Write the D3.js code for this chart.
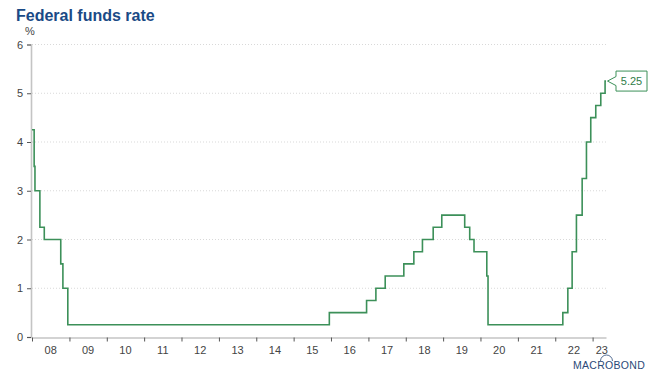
<!DOCTYPE html>
<html><head><meta charset="utf-8">
<script src="https://cdn.jsdelivr.net/npm/d3@7"></script>
<style>
html,body{margin:0;padding:0;background:#fff;}
svg{display:block;font-family:"Liberation Sans",Arial,sans-serif;}
</style></head>
<body><svg id="c" width="659" height="372"></svg>
<script>
const rateDates = ["2008-01-01","2008-01-22","2008-01-30","2008-03-18","2008-04-30","2008-10-08","2008-10-29","2008-12-16",
"2015-12-16","2016-12-14","2017-03-15","2017-06-14","2017-12-13","2018-03-21","2018-06-13","2018-09-26","2018-12-19",
"2019-07-31","2019-09-18","2019-10-30","2020-03-03","2020-03-15",
"2022-03-16","2022-05-04","2022-06-15","2022-07-27","2022-09-21","2022-11-02","2022-12-14",
"2023-02-01","2023-03-22","2023-05-03","2023-05-12"];
const rateValues = [4.25,3.5,3.0,2.25,2.0,1.5,1.0,0.25,
0.5,0.75,1.0,1.25,1.5,1.75,2.0,2.25,2.5,
2.25,2.0,1.75,1.25,0.25,
0.5,1.0,1.75,2.5,3.25,4.0,4.5,
4.75,5.0,5.25,5.25];
const yTicks = [0,1,2,3,4,5,6];
const yearTicks = ["2008","2009","2010","2011","2012","2013","2014","2015","2016","2017","2018","2019","2020","2021","2022","2023"];
const lastLabel = "5.25";

const parse = d3.utcParse("%Y-%m-%d");
const data = rateDates.map((d,i)=>({date:parse(d), v:rateValues[i]}));
const svg = d3.select("#c");
const domainEnd = parse("2023-05-12");
const x = d3.scaleUtc().domain([parse("2008-01-01"), domainEnd]).range([32, 606]);
const y = d3.scaleLinear().domain([0,6]).range([337, 44.5]);

// title
svg.append("text").attr("x",16).attr("y",21).attr("font-size",16).attr("font-weight","bold")
  .attr("fill","#1a4a86").text("Federal funds rate");
svg.append("text").attr("x",25).attr("y",35).attr("font-size",11).attr("fill","#444").text("%");

// grid
svg.append("g").selectAll("line").data(yTicks.filter(d=>d>0)).join("line")
  .attr("x1",32).attr("x2",608).attr("y1",d=>y(d)).attr("y2",d=>y(d))
  .attr("stroke","#cfcfcf").attr("stroke-width",0.8).attr("stroke-dasharray","1,2");

// y axis
const ya = svg.append("g").attr("transform","translate(31,0)")
  .call(d3.axisLeft(y).tickValues(yTicks).tickFormat(d3.format("d")).tickSize(4).tickPadding(4));
ya.select(".domain").attr("stroke","#c4c4c4").attr("stroke-width",1.6);
ya.selectAll(".tick line").attr("stroke","#555");
ya.selectAll("text").attr("font-size",11).attr("fill","#444").attr("font-family","Liberation Sans, Arial, sans-serif");

// x axis
const yearDates = yearTicks.map(t=>parse(t+"-01-01"));
const xa = svg.append("g").attr("transform","translate(0,337.5)")
  .call(d3.axisBottom(x).tickValues(yearDates).tickFormat("").tickSize(4).tickSizeOuter(0));
xa.select(".domain").attr("stroke","#c4c4c4").attr("stroke-width",1.6);
xa.selectAll(".tick line").attr("stroke","#555");
svg.append("g").selectAll("text").data(yearTicks).join("text")
  .attr("x",(d,i)=>{const a=x(parse(d+"-01-01")); const b = i<yearTicks.length-1 ? x(parse(yearTicks[i+1]+"-01-01")) : x(domainEnd)+5; return (a+b)/2;})
  .attr("y",354).attr("text-anchor","middle").attr("font-size",11).attr("fill","#444").text(d=>d.slice(2));

// line
const line = d3.line().x(d=>x(d.date)).y(d=>y(d.v)).curve(d3.curveStepAfter);
svg.append("path").datum(data).attr("d",line).attr("fill","none").attr("stroke","#3c9059").attr("stroke-width",1.6);

// callout label
const last = data[data.length-1];
const lx = x(last.date)+1.5, ly = y(last.v);
const bx = 616, bw = 31, by0 = ly-10, bh = 20;
svg.append("path").attr("d",`M${lx},${ly} L${bx},${ly-4.5} L${bx},${by0} L${bx+bw},${by0} L${bx+bw},${by0+bh} L${bx},${by0+bh} L${bx},${ly+4.5} Z`)
  .attr("fill","#fff").attr("stroke","#3c9059").attr("stroke-width",1);
svg.append("text").attr("x",bx+bw/2).attr("y",ly+4).attr("text-anchor","middle").attr("font-size",11).attr("fill","#2f7d48").text(lastLabel);

// logo
svg.append("text").attr("x",609).attr("y",369).attr("text-anchor","middle").attr("font-size",10.5)
  .attr("fill","#2b4a78").attr("letter-spacing",0.3).text("MACROBOND");
svg.append("path").attr("d","M600.5,361 A6,6 0 0 1 612.5,361").attr("fill","none").attr("stroke","#2b4a78").attr("stroke-width",0.8);
</script></body></html>
